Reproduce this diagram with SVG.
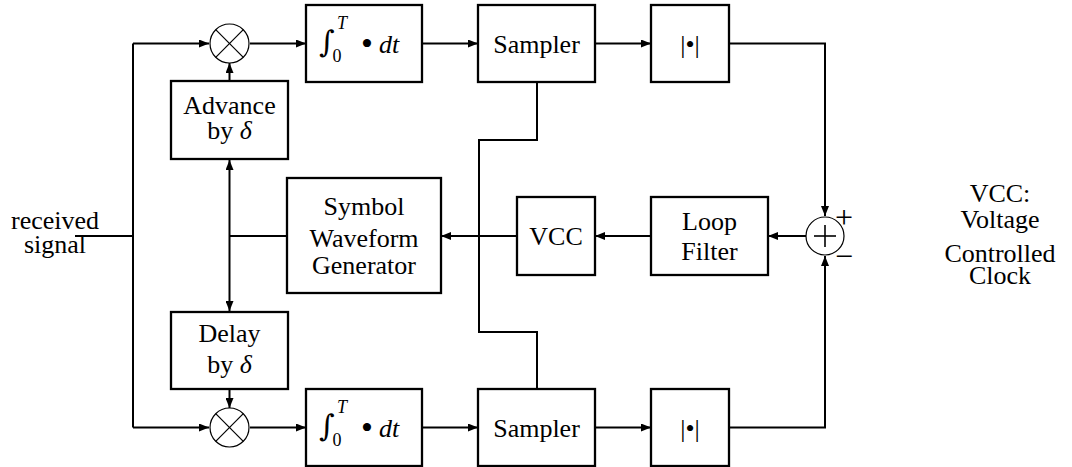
<svg xmlns="http://www.w3.org/2000/svg" width="1072" height="467" viewBox="0 0 1072 467">
<style>
.box{fill:#fff;stroke:#000;stroke-width:2.3}
.thin{fill:#fff;stroke:#000;stroke-width:1.2}
.w{fill:none;stroke:#000;stroke-width:2}
.t{font-family:"Liberation Serif","Times New Roman",serif;font-size:26px;fill:#000;text-anchor:middle}
.i{font-style:italic}
.s{font-size:18px}
.int{font-family:"DejaVu Serif",serif;font-size:30px}
.dot{font-size:34px}
.sg{font-size:32px}
</style>
<defs>
<marker id="ah" markerUnits="userSpaceOnUse" markerWidth="10" markerHeight="8" refX="10" refY="4" orient="auto-start-reverse">
<path d="M0,0 L10,4 L0,8 z" fill="#000"/>
</marker>
</defs>
<g id="connectors">
<line class="w" x1="75" y1="236" x2="133" y2="236"/>
<line class="w" x1="133" y1="43.5" x2="133" y2="427.5"/>
<line class="w" x1="133" y1="43.5" x2="209" y2="43.5" marker-end="url(#ah)"/>
<line class="w" x1="133" y1="427.5" x2="209" y2="427.5" marker-end="url(#ah)"/>
<line class="w" x1="229.5" y1="81" x2="229.5" y2="63" marker-end="url(#ah)"/>
<line class="w" x1="229.5" y1="389" x2="229.5" y2="408" marker-end="url(#ah)"/>
<line class="w" x1="229.5" y1="160" x2="229.5" y2="311" marker-start="url(#ah)" marker-end="url(#ah)"/>
<line class="w" x1="229.5" y1="236" x2="287" y2="236"/>
<line class="w" x1="250" y1="43.5" x2="306" y2="43.5" marker-end="url(#ah)"/>
<line class="w" x1="250" y1="427.5" x2="306" y2="427.5" marker-end="url(#ah)"/>
<line class="w" x1="422" y1="43.5" x2="478" y2="43.5" marker-end="url(#ah)"/>
<line class="w" x1="422" y1="427.5" x2="478" y2="427.5" marker-end="url(#ah)"/>
<line class="w" x1="595" y1="43.5" x2="651" y2="43.5" marker-end="url(#ah)"/>
<line class="w" x1="595" y1="427.5" x2="651" y2="427.5" marker-end="url(#ah)"/>
<polyline class="w" points="729,43.5 825,43.5 825,216"/>
<line class="w" x1="825" y1="200" x2="825" y2="216" marker-end="url(#ah)"/>
<polyline class="w" points="729,427.5 825,427.5 825,256"/>
<line class="w" x1="825" y1="270" x2="825" y2="256" marker-end="url(#ah)"/>
<line class="w" x1="806" y1="236" x2="768" y2="236" marker-end="url(#ah)"/>
<line class="w" x1="651" y1="236" x2="595" y2="236" marker-end="url(#ah)"/>
<line class="w" x1="517" y1="236" x2="441" y2="236" marker-end="url(#ah)"/>
<polyline class="w" points="537,82 537,140 479,140 479,332 537,332 537,389"/>
</g>
<g id="input-label">
<text class="t" x="55" y="229">received</text>
<text class="t" x="55" y="253">signal</text>
</g>
<g id="mult-top">
<circle class="thin" cx="229.5" cy="43.5" r="19.5"/>
<line stroke="#000" stroke-width="1.2" x1="215.7" y1="29.7" x2="243.3" y2="57.3"/>
<line stroke="#000" stroke-width="1.2" x1="243.3" y1="29.7" x2="215.7" y2="57.3"/>
</g>
<g id="mult-bottom">
<circle class="thin" cx="229.5" cy="427.5" r="19.5"/>
<line stroke="#000" stroke-width="1.2" x1="215.7" y1="413.7" x2="243.3" y2="441.3"/>
<line stroke="#000" stroke-width="1.2" x1="243.3" y1="413.7" x2="215.7" y2="441.3"/>
</g>
<g id="advance">
<rect class="box" x="171" y="81" width="117" height="78"/>
<text class="t" x="229.5" y="114">Advance</text>
<text class="t" x="229.5" y="139">by <tspan class="i">δ</tspan></text>
</g>
<g id="delay">
<rect class="box" x="171" y="312" width="117" height="77"/>
<text class="t" x="229.5" y="342">Delay</text>
<text class="t" x="229.5" y="373">by <tspan class="i">δ</tspan></text>
</g>
<g id="symbol-gen">
<rect class="box" x="287" y="178" width="154" height="115"/>
<text class="t" x="364" y="215">Symbol</text>
<text class="t" x="364" y="247">Waveform</text>
<text class="t" x="364" y="274">Generator</text>
</g>
<g id="integrator-top">
<rect class="box" x="306" y="5" width="116" height="77"/>
<text class="t int" x="327" y="52">∫</text>
<text class="t i s" x="342" y="29">T</text>
<text class="t s" x="337" y="62">0</text>
<text class="t dot" x="367" y="55">•</text>
<text class="t i" x="389" y="53">dt</text>
</g>
<g id="integrator-bottom">
<rect class="box" x="306" y="389" width="116" height="77"/>
<text class="t int" x="327" y="436">∫</text>
<text class="t i s" x="342" y="413">T</text>
<text class="t s" x="337" y="446">0</text>
<text class="t dot" x="367" y="439">•</text>
<text class="t i" x="389" y="437">dt</text>
</g>
<g id="sampler-top">
<rect class="box" x="478" y="5" width="117" height="77"/>
<text class="t" x="536.5" y="53">Sampler</text>
</g>
<g id="sampler-bottom">
<rect class="box" x="478" y="389" width="117" height="77"/>
<text class="t" x="536.5" y="437">Sampler</text>
</g>
<g id="abs-top">
<rect class="box" x="651" y="5" width="78" height="77"/>
<text class="t" x="690" y="53">|•|</text>
</g>
<g id="abs-bottom">
<rect class="box" x="651" y="389" width="78" height="77"/>
<text class="t" x="690" y="437">|•|</text>
</g>
<g id="vcc">
<rect class="box" x="517" y="197" width="78" height="78"/>
<text class="t" x="556" y="245">VCC</text>
</g>
<g id="loop-filter">
<rect class="box" x="651" y="197" width="117" height="78"/>
<text class="t" x="709.5" y="230">Loop</text>
<text class="t" x="709.5" y="260">Filter</text>
</g>
<g id="summer">
<circle class="thin" cx="825" cy="236" r="19"/>
<line stroke="#000" stroke-width="1.6" x1="814" y1="236" x2="836" y2="236"/>
<line stroke="#000" stroke-width="1.6" x1="825" y1="225" x2="825" y2="247"/>
<text class="t sg" x="844" y="228">+</text>
<text class="t sg" x="844" y="267">−</text>
</g>
<g id="note">
<text class="t" x="1000" y="202">VCC:</text>
<text class="t" x="1000" y="228">Voltage</text>
<text class="t" x="1000" y="262">Controlled</text>
<text class="t" x="1000" y="284">Clock</text>
</g>
</svg>
